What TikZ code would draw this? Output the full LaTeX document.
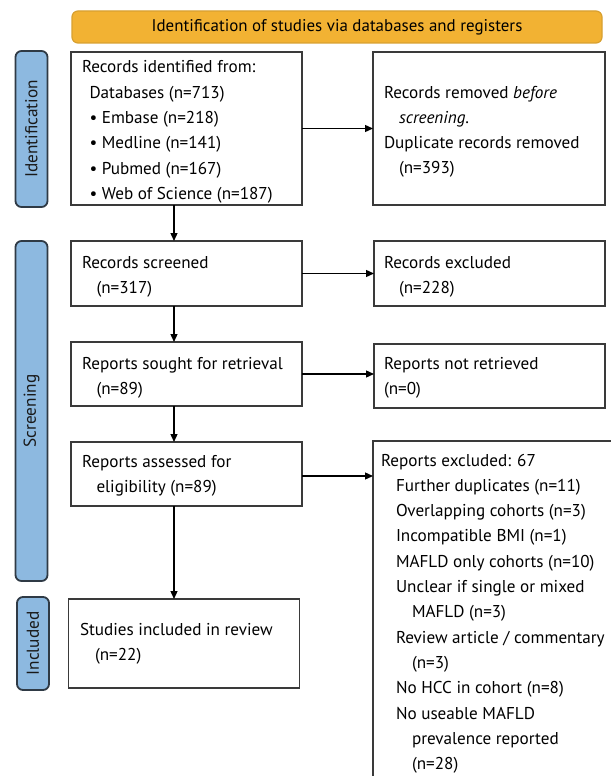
\documentclass[tikz,border=0pt]{standalone}
\usepackage{fontspec}
\setmainfont{PT Sans}
\usetikzlibrary{arrows.meta}
\definecolor{bannerfill}{HTML}{F2B233}
\definecolor{bannerdraw}{HTML}{D8A030}
\definecolor{labfill}{HTML}{8DB9E0}
\definecolor{labdraw}{HTML}{2F3A45}
\definecolor{boxdraw}{HTML}{3A3A3A}
\newcommand\mylines[1]{\parbox[t]{300bp}{\raggedright\setlength{\baselineskip}{25.3bp}#1}}
\newcommand\ind[1]{\hspace*{#1bp}}
\begin{document}
\begin{tikzpicture}[x=1bp,y=-1bp,
  box/.style={draw=boxdraw, line width=1.4bp, anchor=north west, inner sep=0pt, outer sep=0pt},
  banner/.style={draw=bannerdraw, fill=bannerfill, line width=1.2bp, rounded corners=6bp, anchor=north west, inner sep=0pt, outer sep=0pt},
  phase/.style={draw=labdraw, fill=labfill, line width=1.8bp, rounded corners=6bp, anchor=north west, inner sep=0pt, outer sep=0pt},
  txt/.style={anchor=base west, inner sep=0pt, outer sep=0pt, text=black, font=\fontsize{17.2}{20}\selectfont},
  labtxt/.style={rotate=90, inner sep=0pt, text=black!90, font=\fontsize{17.3}{20}\selectfont},
  arr/.style={draw=black, line width=1.3bp, -{Triangle[length=8bp,width=7bp]}}]
\clip (0,0) rectangle (611,776);
\fill[white] (0,0) rectangle (611,776);

% banner
\node[banner, minimum width=530bp, minimum height=32bp] (ban) at (72,11) {};
\node[inner sep=0pt, font=\fontsize{17}{20}\selectfont, text=black] (bant) at (ban.center) {Identification of studies via databases and registers};

% phase labels
\node[phase, minimum width=32bp, minimum height=156bp] (pid) at (15.5,51) {};
\node[labtxt] (pidt) at (pid.center) {Identification};
\node[phase, minimum width=32bp, minimum height=340bp] (psc) at (15.5,241) {};
\node[labtxt] (psct) at (psc.center) {Screening};
\node[phase, minimum width=32bp, minimum height=93bp] (pin) at (17,597) {};
\node[labtxt] (pint) at (pin.center) {Included};

% boxes
\node[box, minimum width=231bp, minimum height=153bp] (b1) at (71,52) {};
\node[box, minimum width=232bp, minimum height=153bp] (rem) at (373,52) {};
\node[box, minimum width=231bp, minimum height=65bp] (scr) at (71,241) {};
\node[box, minimum width=231bp, minimum height=65bp] (exc) at (374,241) {};
\node[box, minimum width=231bp, minimum height=64bp] (sou) at (71,342) {};
\node[box, minimum width=231bp, minimum height=64bp] (nre) at (374,344) {};
\node[box, minimum width=231bp, minimum height=64bp] (ass) at (71,442) {};
\node[box, minimum width=260bp, minimum height=360bp] (rex) at (373,441) {};
\node[box, minimum width=231bp, minimum height=89bp] (inc) at (68.5,599) {};

% texts
\node[txt] (b1t) at (82,73) {\mylines{Records identified from:\\
\ind{7.5}Databases (n=713)\\
\ind{7.5}\textbullet\ Embase (n=218)\\
\ind{7.5}\textbullet\ Medline (n=141)\\
\ind{7.5}\textbullet\ Pubmed (n=167)\\
\ind{7.5}\textbullet\ Web of Science (n=187)}};
\node[txt] (remt) at (384,98) {\mylines{Records removed \textit{before}\\
\ind{15}\textit{screening}.\\
Duplicate records removed\\
\ind{15}(n=393)}};
\node[txt] (scrt) at (82,268) {\mylines{Records screened\\\ind{14.5}(n=317)}};
\node[txt] (exct) at (384,268) {\mylines{Records excluded\\\ind{15}(n=228)}};
\node[txt] (sout) at (82,369) {\mylines{Reports sought for retrieval\\\ind{14.5}(n=89)}};
\node[txt] (nret) at (384,369) {\mylines{Reports not retrieved\\(n=0)}};
\node[txt] (asst) at (82,467) {\mylines{Reports assessed for\\\ind{14.5}eligibility (n=89)}};
\node[txt] (inct) at (80,635) {\mylines{Studies included in review\\\ind{15}(n=22)}};
\node[txt] (rext) at (381,466) {\mylines{Reports excluded: 67\\
\ind{15}Further duplicates (n=11)\\
\ind{15}Overlapping cohorts (n=3)\\
\ind{15}Incompatible BMI (n=1)\\
\ind{15}MAFLD only cohorts (n=10)\\
\ind{15}Unclear if single or mixed\\
\ind{31}MAFLD (n=3)\\
\ind{15}Review article / commentary\\
\ind{31}(n=3)\\
\ind{15}No HCC in cohort (n=8)\\
\ind{15}No useable MAFLD\\
\ind{31}prevalence reported\\
\ind{31}(n=28)}};

% connectors
\coordinate (ax) at (174,0);
\draw[arr] (ax |- b1.south) -- (ax |- scr.north);
\draw[arr] (ax |- scr.south) -- (ax |- sou.north);
\draw[arr] (ax |- sou.south) -- (ax |- ass.north);
\draw[arr] (ax |- ass.south) -- (ax |- inc.north);
\draw[arr] (b1.east) -- (b1.east -| rem.west);
\draw[arr] (scr.east) -- (scr.east -| exc.west);
\draw[arr] (sou.east) -- (sou.east -| nre.west);
\coordinate (ay) at (0,476);
\draw[arr] (ay -| ass.east) -- (ay -| rex.west);
\end{tikzpicture}
\end{document}
